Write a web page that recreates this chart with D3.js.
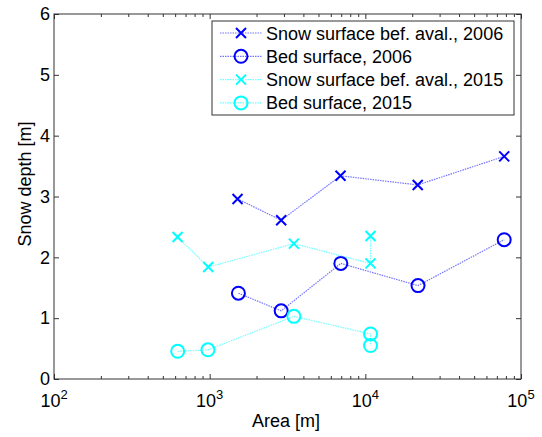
<!DOCTYPE html>
<html>
<head>
<meta charset="utf-8">
<script src="https://cdn.jsdelivr.net/npm/d3@7"></script>
<style>
  body { margin: 0; background: #fff; }
  svg { font-family: "Liberation Sans", Arial, Helvetica, sans-serif; }
</style>
</head>
<body>
<svg width="542" height="437"></svg>
<script>
  // values
  const areaSnow06 = [1510, 2880, 6930, 21700, 78000];
  const snow06 = [2.96, 2.61, 3.34, 3.19, 3.66];
  const areaBed06 = [1530, 2880, 6960, 21800, 78000];
  const bed06 = [1.41, 1.12, 1.90, 1.535, 2.29];
  const areaSnow15 = [622, 980, 3475, 10800, 10800];
  const snow15 = [2.335, 1.84, 2.225, 1.90, 2.35];
  const areaBed15 = [623, 975, 3475, 10800, 10800];
  const bed15 = [0.455, 0.48, 1.03, 0.74, 0.55];

  const xMajor = [100, 1000, 10000, 100000];
  const xExp = ['2', '3', '4', '5'];
  const yTicks = [0, 1, 2, 3, 4, 5, 6];

  const seriesNames = ['Snow surface bef. aval., 2006', 'Bed surface, 2006',
                       'Snow surface bef. aval., 2015', 'Bed surface, 2015'];

  const svg = d3.select('svg');
  const margin = {top: 14, right: 21, bottom: 58, left: 54};
  const width = 542 - margin.left - margin.right;
  const height = 437 - margin.top - margin.bottom;

  const g = svg.append('g')
    .attr('transform', 'translate(' + margin.left + ',' + margin.top + ')');

  const x = d3.scaleLog().domain([100, 100000]).range([0, width]);
  const y = d3.scaleLinear().domain([0, 6]).range([height, 0]);

  // minor ticks for the log axis
  const xMinor = [];
  for (let dec = 100; dec < 100000; dec *= 10) {
    for (let k = 2; k <= 9; k++) xMinor.push(dec * k);
  }

  function xAxisGroup(axisFn, values, size, ty) {
    g.append('g')
      .attr('transform', 'translate(0,' + ty + ')')
      .call(axisFn(x).tickValues(values).tickSize(size).tickFormat(''))
      .call(s => s.select('.domain').remove());
  }
  xAxisGroup(d3.axisBottom, xMajor, -5, height);
  xAxisGroup(d3.axisBottom, xMinor, -3, height);
  xAxisGroup(d3.axisTop, xMajor, -5, 0);
  xAxisGroup(d3.axisTop, xMinor, -3, 0);

  g.append('g')
    .call(d3.axisLeft(y).tickValues(yTicks).tickSize(-5).tickPadding(4).tickFormat(d3.format('d')))
    .call(s => s.select('.domain').remove())
    .selectAll('text')
      .attr('font-size', 18)
      .attr('fill', '#000')
      .attr('font-family', null);

  g.append('g')
    .attr('transform', 'translate(' + width + ',0)')
    .call(d3.axisRight(y).tickValues(yTicks).tickSize(-5).tickFormat(''))
    .call(s => s.select('.domain').remove());

  g.selectAll('.tick line').attr('stroke', '#333');

  // x tick labels 10^n
  const xl = g.selectAll('.xlab')
    .data(xMajor)
    .enter()
    .append('text')
      .attr('class', 'xlab')
      .attr('x', d => x(d))
      .attr('y', height + 28)
      .attr('text-anchor', 'middle')
      .attr('font-size', 18);
  xl.append('tspan').text('10');
  xl.append('tspan')
    .attr('dy', -8)
    .attr('font-size', 13)
    .text((d, i) => xExp[i]);

  // box
  g.append('rect')
    .attr('width', width)
    .attr('height', height)
    .attr('fill', 'none')
    .attr('stroke', '#333')
    .attr('stroke-width', 1);

  // axis labels
  svg.append('text')
    .attr('x', 286)
    .attr('y', 427)
    .attr('text-anchor', 'middle')
    .attr('font-size', 18)
    .text('Area [m]');

  svg.append('text')
    .attr('transform', 'translate(31,184) rotate(-90)')
    .attr('text-anchor', 'middle')
    .attr('font-size', 18)
    .text('Snow depth [m]');

  const series = [
    {xs: areaSnow06, ys: snow06, color: '#0000ff', marker: 'x'},
    {xs: areaBed06, ys: bed06, color: '#0000ff', marker: 'o'},
    {xs: areaSnow15, ys: snow15, color: '#00ffff', marker: 'x'},
    {xs: areaBed15, ys: bed15, color: '#00ffff', marker: 'o'}
  ];

  function drawMarker(sel, type, color) {
    if (type === 'o') {
      sel.append('circle')
        .attr('r', 6.5)
        .attr('fill', 'none')
        .attr('stroke', color)
        .attr('stroke-width', 2);
    } else {
      sel.append('path')
        .attr('d', 'M-5,-5L5,5M-5,5L5,-5')
        .attr('fill', 'none')
        .attr('stroke', color)
        .attr('stroke-width', 2);
    }
  }

  const line = d3.line().x(d => x(d[0])).y(d => y(d[1]));

  series.forEach(s => {
    const pts = s.xs.map((v, i) => [v, s.ys[i]]);
    g.append('path')
      .datum(pts)
      .attr('d', line)
      .attr('fill', 'none')
      .attr('stroke', s.color)
      .attr('stroke-opacity', 0.55)
      .attr('stroke-width', 1.2)
      .attr('stroke-dasharray', '1.5,1');
    g.selectAll(null)
      .data(pts)
      .enter()
      .append('g')
        .attr('transform', d => 'translate(' + x(d[0]) + ',' + y(d[1]) + ')')
        .each(function () { drawMarker(d3.select(this), s.marker, s.color); });
  });

  // legend
  const leg = svg.append('g').attr('transform', 'translate(212,21)');
  leg.append('rect')
    .attr('width', 302)
    .attr('height', 94)
    .attr('fill', '#fff')
    .attr('stroke', '#333');
  seriesNames.forEach((name, i) => {
    const row = leg.append('g').attr('transform', 'translate(0,' + (12 + i * 23.3) + ')');
    row.append('line')
      .attr('x1', 8).attr('x2', 50)
      .attr('stroke', series[i].color)
      .attr('stroke-opacity', 0.55)
      .attr('stroke-width', 1.2)
      .attr('stroke-dasharray', '1.5,1');
    const m = row.append('g').attr('transform', 'translate(29,0)');
    drawMarker(m, series[i].marker, series[i].color);
    row.append('text')
      .attr('x', 54)
      .attr('y', 6.5)
      .attr('font-size', 18)
      .text(name);
  });
</script>
</body>
</html>
